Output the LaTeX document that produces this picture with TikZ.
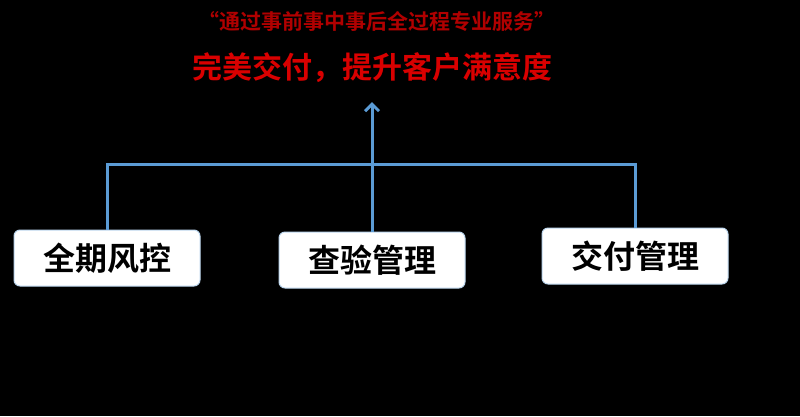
\documentclass[tikz,border=0pt]{standalone}
\usepackage{fontspec}
\newfontfamily\cjk{Noto Sans CJK SC}[BoldFont={Noto Sans CJK SC Bold}]
\usetikzlibrary{arrows.meta}
\definecolor{lblue}{HTML}{5B9BD5}
\definecolor{dred}{HTML}{B00000}
\tikzset{
 box/.style={draw=lblue!40!white,line width=1pt,fill=white,rounded corners=6pt,minimum width=186pt,minimum height=56pt,inner sep=0pt,font=\cjk\bfseries\fontsize{32}{34}\selectfont,text=black},
 link/.style={draw=lblue,line width=3pt}
}
\begin{document}
\begin{tikzpicture}[x=1pt,y=-1pt]
\fill[black] (0,0) rectangle (800,416);
\useasboundingbox (0,0) rectangle (800,416);
\node[text=dred,font=\cjk\bfseries\fontsize{21}{24}\selectfont] (q) at (377,21) {“通过事前事中事后全过程专业服务”};
\node[text=red!85!black,font=\cjk\bfseries\fontsize{30}{33}\selectfont] (t) at (372,68) {完美交付，提升客户满意度};
\node[box] (a) at (107,258) {全期风控};
\node[box] (b) at (372,260) {查验管理};
\node[box] (c) at (635,256) {交付管理};
\coordinate (top) at (372,102);
\draw[link] (a.north) -- ++(0,-65) -| (c.north);
\draw[link,-{Straight Barb[length=7pt,width=14pt,line width=3pt]}] (b.north) -- (top);
\end{tikzpicture}
\end{document}
